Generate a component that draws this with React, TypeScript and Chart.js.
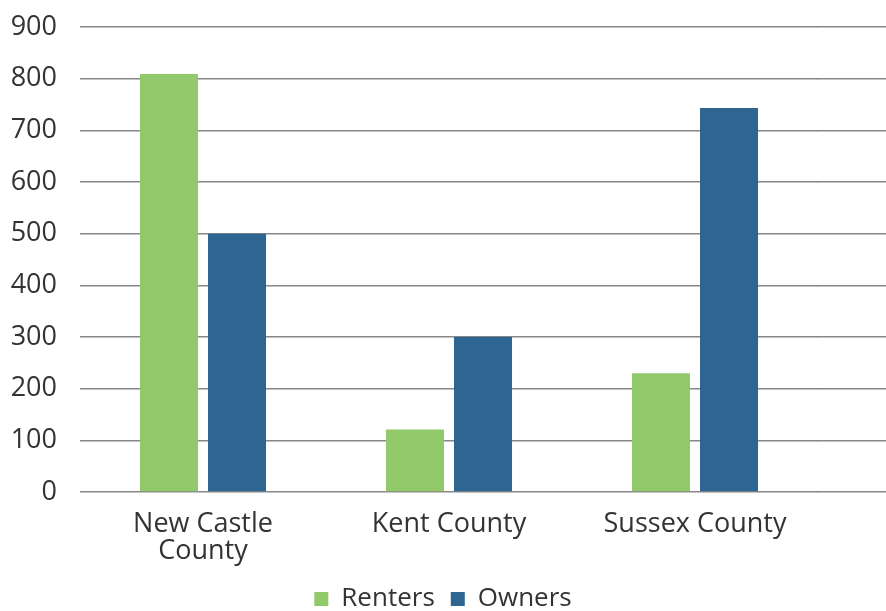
import React, { useEffect, useRef } from 'react';
import { Chart, registerables } from 'chart.js';

Chart.register(...registerables);

const categories: (string | string[])[] = [['New Castle', 'County'], 'Kent County', 'Sussex County'];
const seriesNames = ['Renters', 'Owners'];
const renters = [809, 121, 230];
const owners = [500, 300, 743];
const yMin = 0;
const yMax = 900;
const yStep = 100;

const GREEN = '#92CA6B';
const BLUE = '#2E6591';
const TEXT = '#333333';
const GRID = '#888888';
const GRID_W = 1.5;
const FONT = '"Open Sans", Lato, sans-serif';

const extendGrid = {
  id: 'extendGrid',
  beforeDatasetsDraw(chart: any) {
    const { ctx, chartArea, scales } = chart;
    const y = scales.y;
    const half = GRID_W / 2;
    ctx.save();
    ctx.strokeStyle = GRID;
    ctx.lineWidth = GRID_W;
    y.ticks.forEach((t: any) => {
      const p = y.getPixelForValue(t.value);
      const py = Math.round(p - half) + half;
      ctx.beginPath();
      ctx.moveTo(chartArea.right - 1, py);
      ctx.lineTo(chart.width, py);
      ctx.stroke();
    });
    ctx.restore();
  },
};

export default function App() {
  const ref = useRef<HTMLCanvasElement | null>(null);
  useEffect(() => {
    if (!ref.current) return;
    const chart = new Chart(ref.current, {
      type: 'bar',
      data: {
        labels: categories as any,
        datasets: [
          { label: seriesNames[0], data: renters, backgroundColor: GREEN, borderWidth: 0 },
          { label: seriesNames[1], data: owners, backgroundColor: BLUE, borderWidth: 0 },
        ],
      },
      options: {
        responsive: false,
        animation: false,
        datasets: { bar: { categoryPercentage: 0.553, barPercentage: 0.853 } },
        layout: { padding: { top: 27, right: 0, left: 0, bottom: -11 } },
        plugins: {
          tooltip: { enabled: false },
          legend: {
            position: 'bottom',
            labels: {
              font: { family: FONT, size: 26 },
              color: TEXT,
              boxWidth: 14,
              boxHeight: 14,
              padding: 16,
            },
          },
        },
        scales: {
          x: {
            grid: { display: false },
            border: { display: false },
            ticks: {
              font: { family: FONT, size: 27, lineHeight: 1.0 },
              color: TEXT,
              padding: 11,
              maxRotation: 0,
              autoSkip: false,
            },
            afterFit: (s: any) => {
              s.height = 78;
            },
          },
          y: {
            min: yMin,
            max: yMax,
            border: { display: false },
            grid: { color: GRID, lineWidth: GRID_W, drawTicks: false },
            ticks: {
              stepSize: yStep,
              font: { family: FONT, size: 27 },
              color: TEXT,
              padding: 23,
            },
            afterFit: (s: any) => {
              s.width = 80;
              s.paddingTop = 0;
              s.paddingBottom = 0;
            },
          },
          yRight: {
            type: 'linear',
            position: 'right',
            display: true,
            grid: { display: false },
            border: { display: false },
            ticks: { display: false },
            afterFit: (s: any) => {
              s.width = 68;
              s.paddingTop = 0;
              s.paddingBottom = 0;
            },
          },
        },
      },
      plugins: [extendGrid],
    });
    return () => chart.destroy();
  }, []);
  return (
    <div style={{ position: 'absolute', left: 0, top: 0, width: 886, height: 611 }}>
      <canvas ref={ref} width={886} height={611} style={{ width: 886, height: 611 }} />
    </div>
  );
}
